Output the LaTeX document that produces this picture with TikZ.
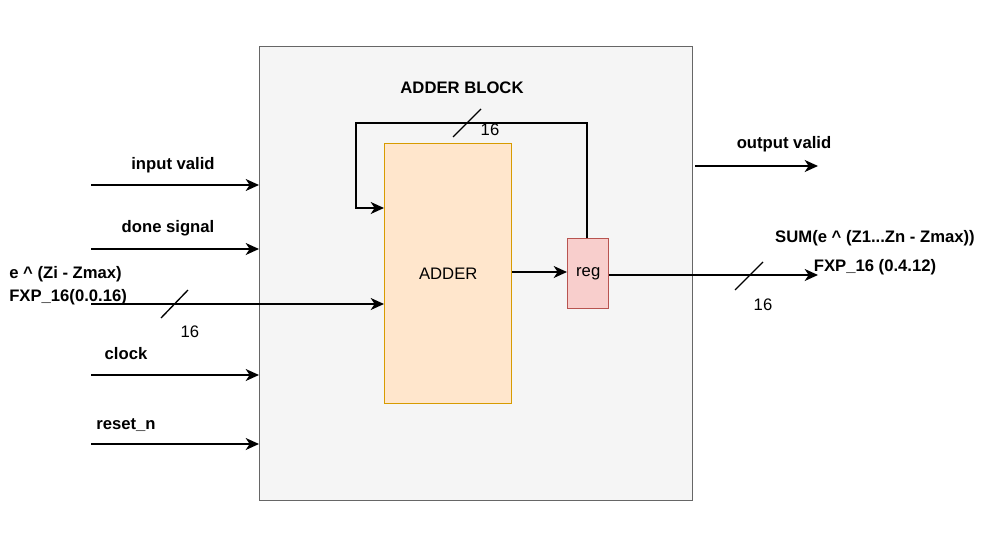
\documentclass[tikz,border=0pt]{standalone}
\usepackage{fontspec}
\setmainfont{Liberation Sans}
\usepackage{xcolor}
\usetikzlibrary{arrows.meta}

\definecolor{blockfill}{HTML}{F5F5F5}
\definecolor{blockdraw}{HTML}{666666}
\definecolor{adderfill}{HTML}{FFE6CC}
\definecolor{adderdraw}{HTML}{D79B00}
\definecolor{regfill}{HTML}{F8CECC}
\definecolor{regdraw}{HTML}{B85450}

\begin{document}
\begin{tikzpicture}[x=0.75pt, y=-0.75pt,
    wire/.style={line width=1pt, -{Stealth[length=10pt, width=9pt, inset=3pt]}},
    lbl/.style={font=\fontsize{12.5}{15}\selectfont\bfseries, inner sep=0pt},
    bus/.style={font=\fontsize{12.5}{15}\selectfont, inner sep=0pt}]
    \useasboundingbox (0,0) rectangle (988,535);

    % outer block and inner parts
    \node[draw=blockdraw, fill=blockfill, line width=1pt, minimum width=433*0.75pt, minimum height=454*0.75pt, anchor=north west, inner sep=0pt] (blk) at (259,46) {};
    \node[lbl] (blkname) at (462,88) {ADDER BLOCK};
    \node[draw=adderdraw, fill=adderfill, line width=1.1pt, minimum width=127*0.75pt, minimum height=260*0.75pt, anchor=north west, inner sep=0pt, font=\fontsize{12.5}{15}\selectfont] (adder) at (384,143) {ADDER};
    \node[draw=regdraw, fill=regfill, line width=1.1pt, minimum width=41*0.75pt, minimum height=70*0.75pt, anchor=north west, inner sep=0pt, font=\fontsize{12.5}{15}\selectfont] (reg) at (567,238) {reg};

    % inputs
    \foreach \y/\name in {185/inval, 249/done, 375/clk, 444/rst} {
        \coordinate (\name) at (91,\y);
        \draw[wire] (\name) -- (blk.west |- \name);
    }
    \node[lbl] (invallbl) at (173,165) {input valid};
    \node[lbl] (donelbl) at (168,228) {done signal};
    \node[lbl] (clklbl) at (126,354) {clock};
    \node[lbl] (rstlbl) at (126,425) {reset\_n};

    \coordinate (expin) at (91,304);
    \draw[wire] (expin) -- (adder.west |- expin);
    \node[lbl, anchor=north west, align=left] (explbl) at (9,266) {e \^{} (Zi - Zmax)\\[2pt]FXP\_16(0.0.16)};
    \draw[line width=1pt] (161,318) -- (188,290);
    \node[bus] (expw) at (190,332) {16};

    % adder to reg, feedback
    \draw[wire] (adder.east |- 0,272) -- (reg.west |- 0,272);
    \coordinate (fbtop) at (587,123);
    \coordinate (fbleft) at (356,123);
    \draw[wire] (reg.north -| fbtop) -- (fbtop) -- (fbleft) -- (356,208) -- (adder.west |- 0,208);
    \draw[line width=1pt] (453,137) -- (481,109);
    \node[bus] (fbw) at (490,130) {16};

    % outputs
    \coordinate (outval) at (818,166);
    \draw[wire] (695,166) -- (outval);
    \node[lbl] (outvallbl) at (784,144) {output valid};

    \coordinate (sumout) at (818,275);
    \draw[wire] (reg.east |- sumout) -- (sumout);
    \draw[line width=1pt] (735,290) -- (763,262);
    \node[bus] (sumw) at (763,305) {16};
    \node[lbl] (sumlbl) at (875,238) {SUM(e \^{} (Z1...Zn - Zmax))};
    \node[lbl] (fxplbl) at (875,267) {FXP\_16 (0.4.12)};

\end{tikzpicture}
\end{document}
